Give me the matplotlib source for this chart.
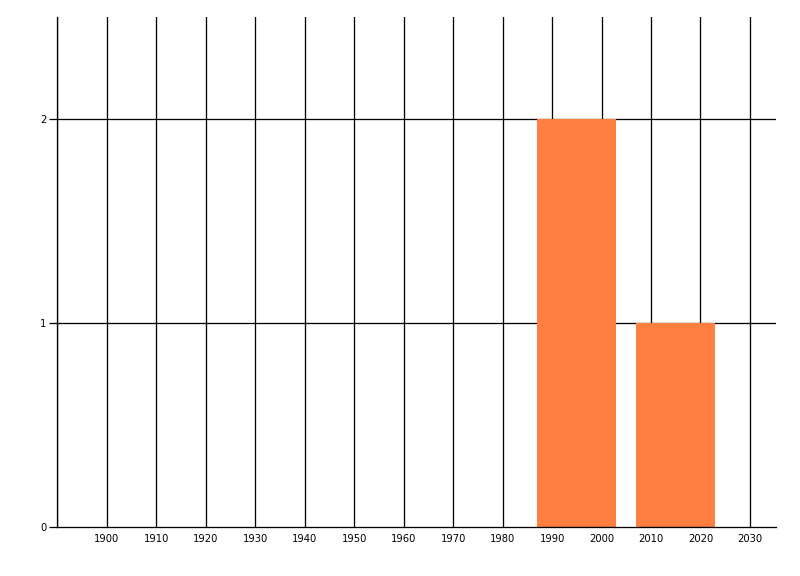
import matplotlib
matplotlib.use("Agg")
import matplotlib.pyplot as plt

# histogram bins (start year, end year) and counts
bin_starts = [1987, 2007]
bin_ends = [2003, 2023]
counts = [2, 1]

x_ticks = [1900, 1910, 1920, 1930, 1940, 1950, 1960, 1970, 1980, 1990, 2000, 2010, 2020, 2030]
x_grid = [1890] + x_ticks
y_ticks = [0, 1, 2]

fig = plt.figure(figsize=(8, 5.76), dpi=100)
ax = fig.add_axes([57.3 / 800, 49 / 576, (775.7 - 57.3) / 800, (527 - 17) / 576])

px = 0.72
for x in x_grid:
    ax.axvline(x, color="black", linewidth=px * 1.3, zorder=1)
for y in y_ticks[1:]:
    ax.axhline(y, color="black", linewidth=px * 1.3, zorder=1)

widths = [e - s for s, e in zip(bin_starts, bin_ends)]
ax.bar(bin_starts, counts, width=widths, align="edge", color="#FF7F41", zorder=2)

ax.set_xlim(1890, 2035.2)
ax.set_ylim(0, 2.5)
ax.set_xticks(x_ticks)
ax.set_yticks(y_ticks)
ax.tick_params(axis="x", length=0, pad=5, labelsize=7.2)
ax.tick_params(axis="y", length=5.8, width=px * 1.3, pad=2, labelsize=7.2)

for side in ["top", "right"]:
    ax.spines[side].set_visible(False)
for side in ["left", "bottom"]:
    ax.spines[side].set_linewidth(px * 1.3)
    ax.spines[side].set_zorder(3)

fig.savefig("out.png", dpi=100)
